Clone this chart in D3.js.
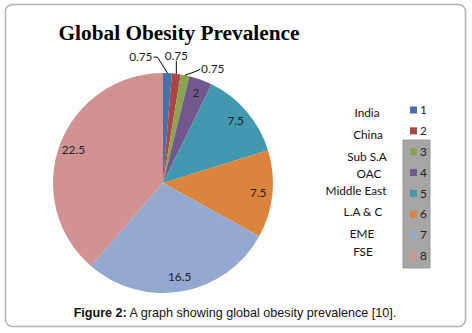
<!DOCTYPE html>
<html><head><meta charset="utf-8">
<script src="https://cdn.jsdelivr.net/npm/d3@7"></script>
<style>body{margin:0;background:#fff}svg{display:block}</style>
</head><body>
<svg id="c" width="472" height="333"></svg>
<script>
const categories = ["India","China","Sub S.A","OAC","Middle East","L.A & C","EME","FSE"];
const legendKeys = ["1","2","3","4","5","6","7","8"];
const values = [0.75,0.75,0.75,2,7.5,7.5,16.5,22.5];
const colors = ["#4572A7","#AA4643","#89A54E","#71588F","#4198AF","#DB843D","#93A9CF","#D19392"];

const svg = d3.select("#c");
// frame
svg.append("rect").attr("x",5.5).attr("y",4.5).attr("width",460).attr("height",322)
  .attr("rx",7).attr("fill","#fff").attr("stroke","#b3b3b3").attr("stroke-width",1.5);

svg.append("text").attr("x",179).attr("y",40).attr("text-anchor","middle")
  .attr("font-family","Liberation Serif").attr("font-weight","bold").attr("font-size",21.3)
  .attr("fill","#000").text("Global Obesity Prevalence");

const cx=163, cy=183, r=110;
const pie = d3.pie().sort(null).value(d=>d);
const arcs = pie(values);
const arc = d3.arc().innerRadius(0).outerRadius(r);
const g = svg.append("g").attr("transform",`translate(${cx},${cy})`);
g.selectAll("path").data(arcs).join("path").attr("d",arc)
  .attr("fill",(d,i)=>colors[i]).attr("stroke","none");

const fontF = "Lato, 'Open Sans', sans-serif";
// inside labels
const labelArc = d3.arc().innerRadius(r*0.87).outerRadius(r*0.87);
arcs.forEach((d,i)=>{
  if(values[i] < 1) return;
  const [x,y] = labelArc.centroid(d);
  g.append("text").attr("x",x).attr("y",y).attr("dy","0.35em").attr("text-anchor","middle")
    .attr("font-family",fontF).attr("font-size",11.8).attr("fill","#222").text(values[i]);
});
// outside labels for small slices
const outOffsets = [[-20,-16],[-3,-18],[29,-6]];
const outer = d3.arc().innerRadius(r).outerRadius(r);
arcs.slice(0,3).forEach((d,i)=>{
  const [x0,y0] = outer.centroid(d);
  const lx = x0+outOffsets[i][0], ly = y0+outOffsets[i][1];
  let pts;
  if(i===0) pts=[[x0,y0],[lx+10,ly],[lx+6,ly]];
  else if(i===1) pts=[[x0,y0],[x0,ly+5]];
  else pts=[[x0,y0],[lx-18,ly+2],[lx-14,ly]];
  g.append("path").attr("d",d3.line()(pts)).attr("fill","none").attr("stroke","#000").attr("stroke-width",1);
  let tx, anchor;
  if(i===0){tx=lx+5;anchor="end";}
  else if(i===1){tx=x0;anchor="middle";}
  else {tx=lx-13;anchor="start";}
  g.append("text").attr("x",tx).attr("y",ly).attr("dy","0.35em").attr("text-anchor",anchor)
    .attr("font-family",fontF).attr("font-size",11.8).attr("fill","#222").text(values[i]);
});

// legend
svg.append("rect").attr("x",403).attr("y",140).attr("width",27).attr("height",128)
  .attr("fill","#a6a6a6").attr("stroke","#999").attr("stroke-width",1);
const ly = d3.scaleLinear().domain([0,7]).range([110,256]);
const catX = [367,368,367,369,356,363,362,363];
const catY = [113,135,157,174,191,212,234,252];
legendKeys.forEach((k,i)=>{
  svg.append("rect").attr("x",410).attr("y",ly(i)-3.5).attr("width",7).attr("height",7).attr("fill",colors[i]);
  svg.append("text").attr("x",420).attr("y",ly(i)).attr("dy","0.35em")
    .attr("font-family",fontF).attr("font-size",11.8).attr("fill","#222").text(k);
  svg.append("text").attr("x",catX[i]).attr("y",catY[i]).attr("dy","0.35em").attr("text-anchor","middle")
    .attr("font-family",fontF).attr("font-size",11.8).attr("fill","#111").text(categories[i]);
});

// caption
const cap = svg.append("text").attr("x",235).attr("y",317).attr("text-anchor","middle")
  .attr("font-family","Liberation Sans, Arial, sans-serif").attr("font-size",12.6).attr("fill","#111");
cap.append("tspan").attr("font-weight","bold").text("Figure 2:");
cap.append("tspan").text(" A graph showing global obesity prevalence [10].");
</script>
</body></html>
